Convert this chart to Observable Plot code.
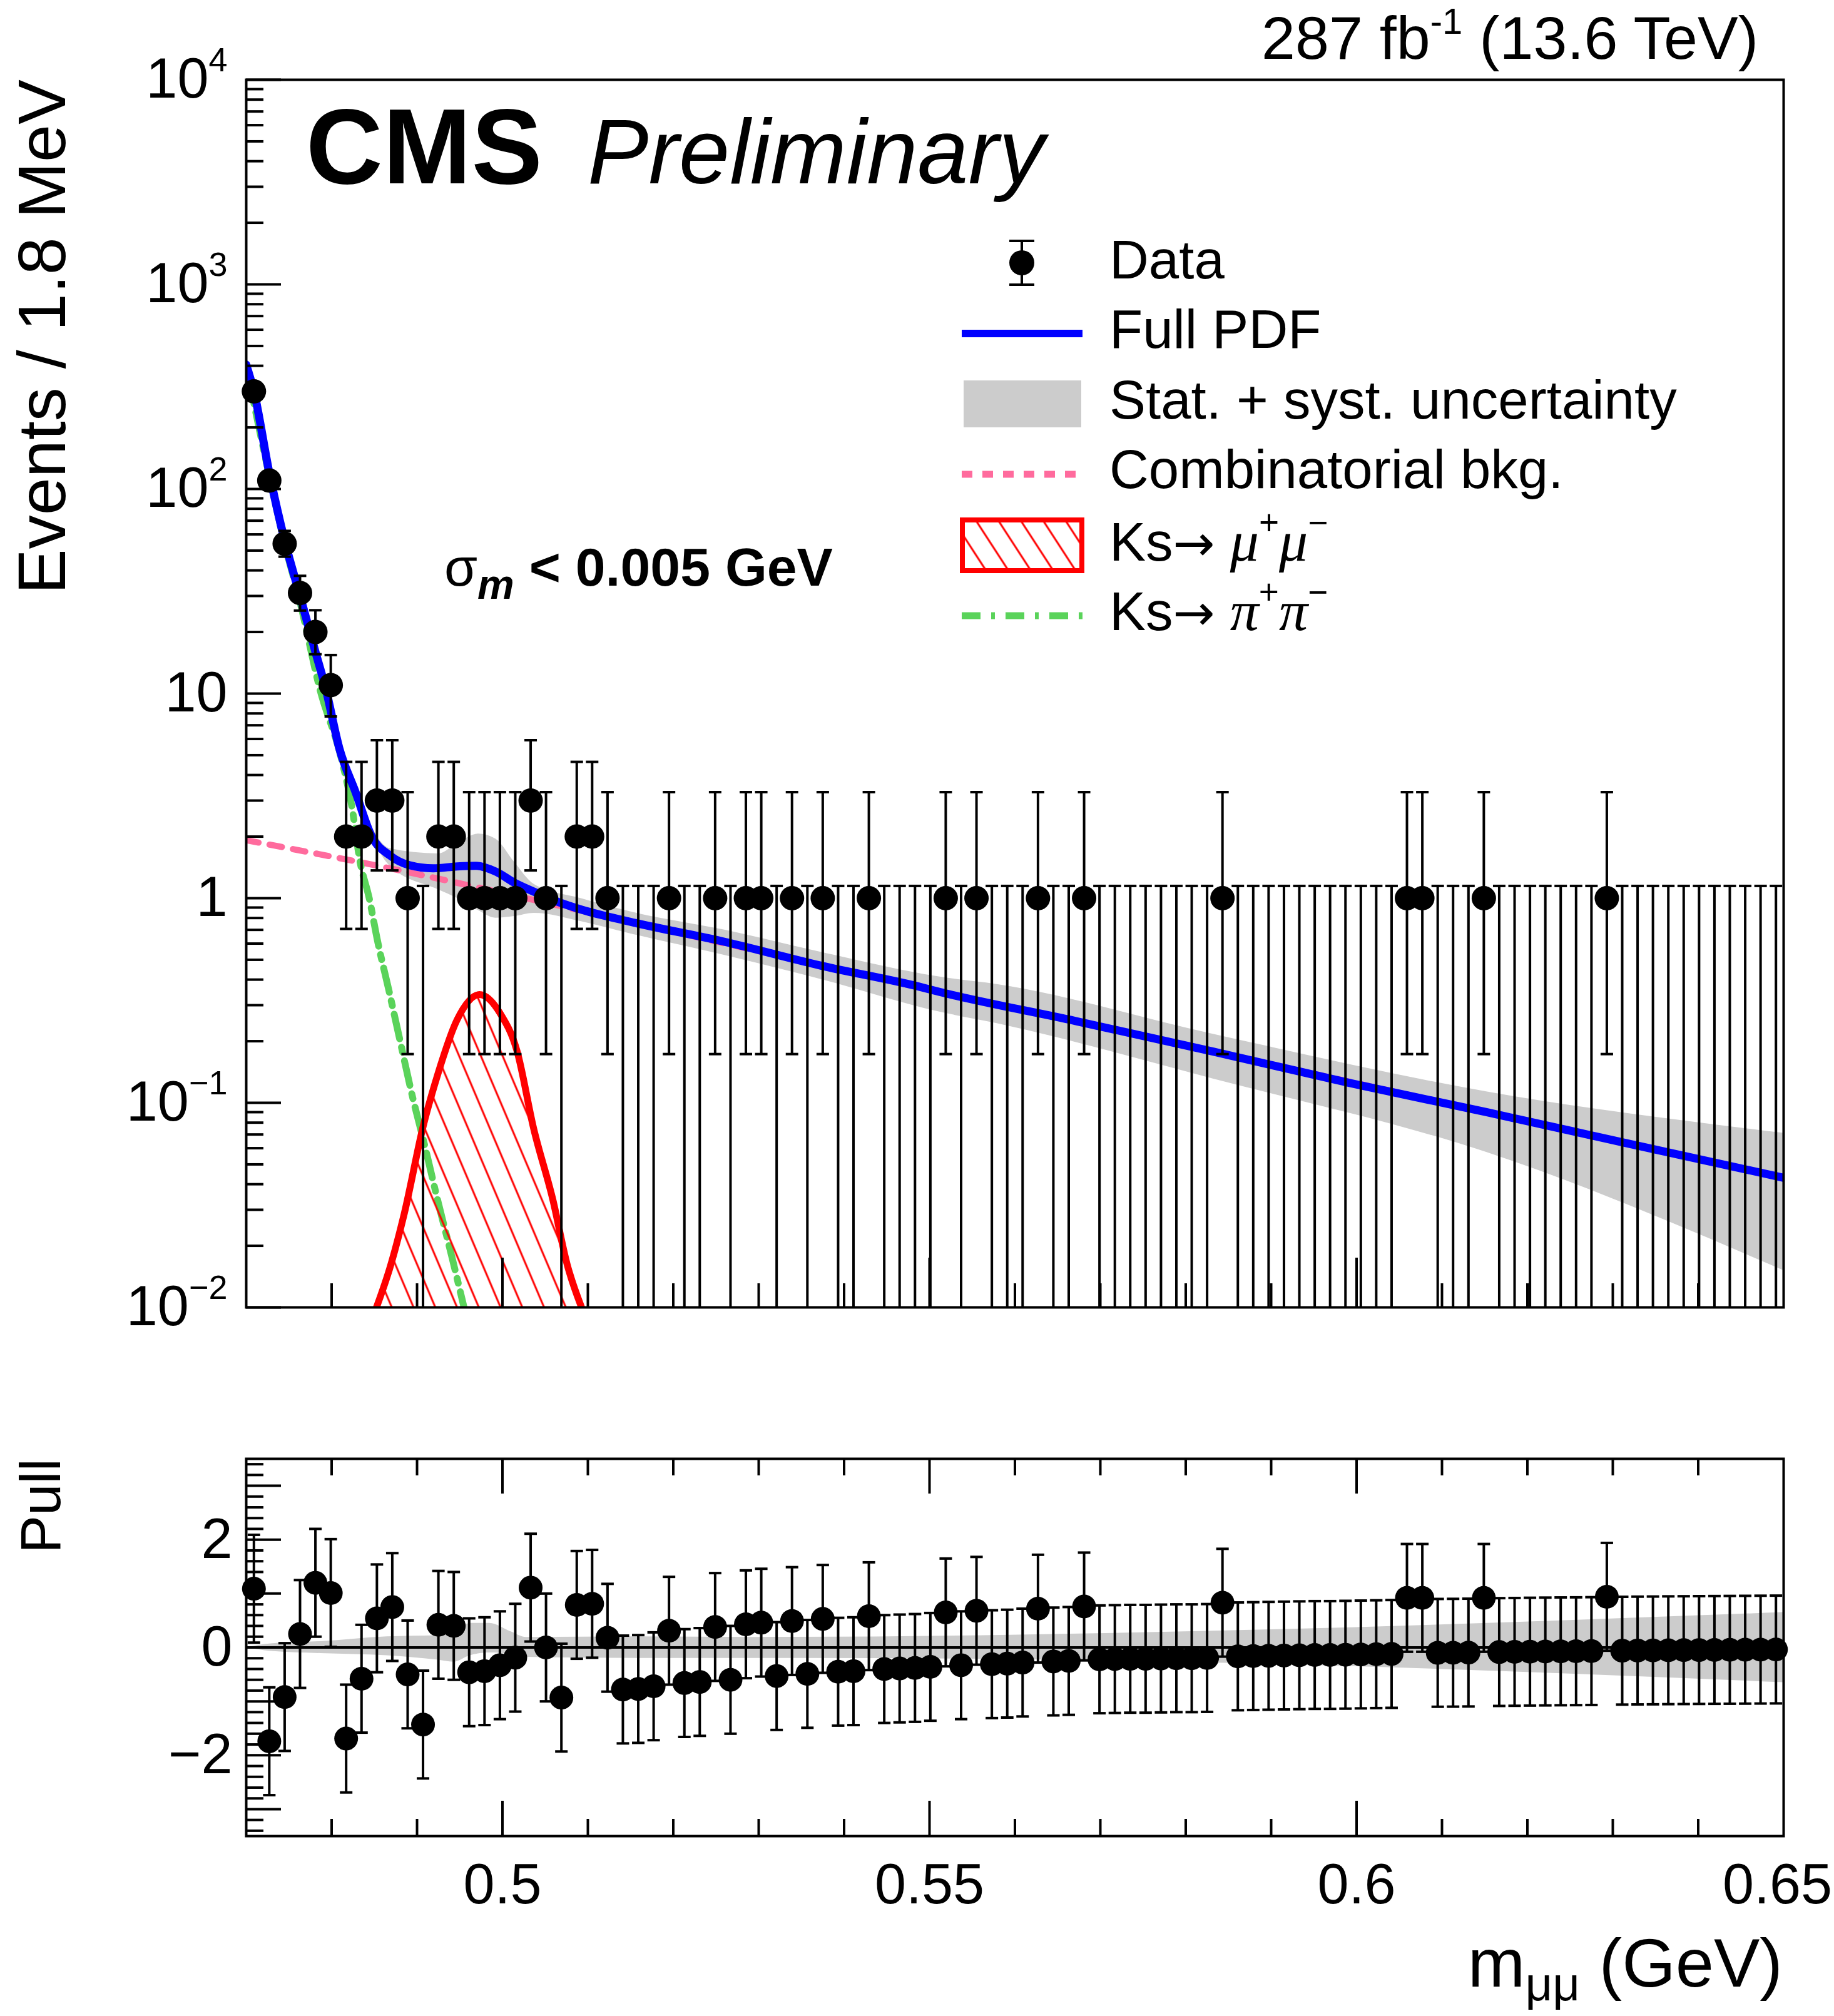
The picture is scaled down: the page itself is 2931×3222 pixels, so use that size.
<!DOCTYPE html>
<html><head><meta charset="utf-8">
<script src="https://cdn.jsdelivr.net/npm/d3@7"></script>
<script src="https://cdn.jsdelivr.net/npm/@observablehq/plot@0.6"></script>
<style>
html,body{margin:0;padding:0;background:#fff;}
#wrap{position:relative;width:2931px;height:3222px;overflow:hidden;background:#fff;}
#main{position:absolute;left:0;top:0;}
#pull{position:absolute;left:0;top:2200px;}
svg{overflow:visible;}
</style></head>
<body><div id="wrap"><div id="main"></div><div id="pull"></div></div>
<script>
// ---------------- data ----------------
const binLow = 0.47, binWidth = 0.0018;   // Events / 1.8 MeV
const counts = [
  300,110,54,31,20,11,2,2,3,3,
  1,0,2,2,1,1,1,1,3,1,
  0,2,2,1,0,0,0,1,0,0,
  1,0,1,1,0,1,0,1,0,0,
  1,0,0,0,0,1,0,1,0,0,
  0,1,0,0,1,0,0,0,0,0,
  0,0,0,1,0,0,0,0,0,0,
  0,0,0,0,0,1,1,0,0,0,
  1,0,0,0,0,0,0,0,1,0,
  0,0,0,0,0,0,0,0,0,0];
// Poisson error bars [down, up] as drawn
const poissonErr = {0:[0,1.148],1:[0.827,2.299],2:[1.292,2.638],3:[1.633,2.918],
  11:[3.27,4.43],20:[4.43,5.55],31:[5.55,6.63],54:[7.32,8.4],110:[10.5,11.5],300:[17.3,18.3]};
const pulls = [
  1.09,-1.74,-0.92,0.25,1.20,1.01,-1.69,-0.58,0.54,0.75,
  -0.50,-1.43,0.42,0.40,-0.46,-0.44,-0.33,-0.19,1.11,0.00,
  -0.93,0.79,0.81,0.18,-0.78,-0.77,-0.72,0.31,-0.66,-0.64,
  0.38,-0.60,0.43,0.46,-0.53,0.49,-0.49,0.53,-0.45,-0.44,
  0.58,-0.40,-0.39,-0.38,-0.36,0.65,-0.33,0.68,-0.31,-0.30,
  -0.28,0.72,-0.26,-0.25,0.76,-0.22,-0.215,-0.21,-0.21,-0.205,
  -0.20,-0.20,-0.195,0.83,-0.165,-0.16,-0.155,-0.15,-0.145,-0.14,
  -0.14,-0.135,-0.13,-0.125,-0.12,0.92,0.92,-0.10,-0.098,-0.095,
  0.92,-0.085,-0.082,-0.078,-0.075,-0.072,-0.07,-0.067,0.94,-0.06,
  -0.057,-0.055,-0.052,-0.05,-0.048,-0.046,-0.044,-0.042,-0.04,-0.038];
const pullErr = 1.0;

const fullX = [0.4700,0.4709,0.4727,0.4745,0.4763,0.4781,0.4793,0.4809,0.4828,0.4847,0.4868,0.4891,0.4919,0.4947,0.4969,0.4992,0.5014,0.5037,0.5065,0.5093,0.5149,0.5261,0.5373,0.5485,0.5511,0.5671,0.5832,0.5992,0.6152,0.6312,0.6500];
const fullY = [405,300,120,56,30,16,10.6,5.4,3.3,2.0,1.62,1.45,1.40,1.43,1.44,1.35,1.19,1.075,0.96,0.878,0.768,0.611,0.468,0.372,0.349,0.251,0.178,0.125,0.090,0.064,0.043];

const bandX  = [0.4700,0.4727,0.4763,0.4799,0.4828,0.4868,0.4925,0.4947,0.4972,0.4992,0.5014,0.5037,0.5093,0.5149,0.5261,0.5373,0.5511,0.5579,0.5832,0.6152,0.6500];
const bandHi = [418,124,31.5,8.2,3.45,1.75,1.65,1.85,2.06,1.95,1.50,1.17,0.995,0.861,0.698,0.545,0.413,0.379,0.2166,0.1134,0.0711];
const bandLo = [392,116,28.5,7.2,3.15,1.44,1.10,1.00,0.87,0.80,0.815,0.845,0.768,0.672,0.525,0.401,0.2785,0.244,0.131,0.0573,0.01515];

const combX = [0.4700,0.4868,0.5037,0.5261,0.5511,0.5832,0.6152,0.6500];
const combY = [1.92,1.40,0.98,0.60,0.349,0.178,0.090,0.043];

const pipiX = [0.4700,0.4727,0.4745,0.4763,0.4786,0.4812,0.4824,0.4833,0.4844,0.4854,0.4867,0.4880,0.4894,0.4908,0.4924,0.4941,0.4955];
const pipiY = [400,116,54,28,10.6,4.7,2.75,1.53,1.0,0.611,0.355,0.202,0.110,0.0643,0.0336,0.0175,0.0100];

const mumuX = [0.48525,0.48682,0.48851,0.49075,0.49243,0.49468,0.49731,0.49972,0.50169,0.50365,0.5059,0.50757,0.50926];
const mumuY = [0.0100,0.0156,0.0288,0.0778,0.138,0.254,0.338,0.274,0.180,0.0749,0.0336,0.01625,0.0100];

const pullBandX  = [0.4700,0.4729,0.4787,0.4865,0.4923,0.4943,0.4962,0.4985,0.5009,0.5028,0.5156,0.5299,0.5594,0.5900,0.6500];
const pullBandHi = [0.00,0.07,0.11,0.20,0.22,0.25,0.45,0.45,0.30,0.19,0.20,0.19,0.23,0.33,0.65];
const pullBandLo = [0.00,-0.07,-0.11,-0.15,-0.23,-0.27,-0.15,-0.10,-0.12,-0.18,-0.20,-0.20,-0.22,-0.31,-0.65];

const yMajor = [0.01,0.1,1,10,100,1000,10000];
const yTickLabels = ["10^{−2}","10^{−1}","1","10","10^{2}","10^{3}","10^{4}"];
const xMajor = [0.5,0.55,0.6];
const xTickValues = [0.5,0.55,0.6];
const xTickLabels = ["0.5","0.55","0.6"];
const xEdgeTick = [0.65];
const xEdgeLabel = ["0.65"];
const pullMajor = [-3,-2,-1,0,1,2,3];
const pullTickValues = [-2,0,2];
const pullTickLabels = ["−2","0","2"];

// ---------------- layout ----------------
const W = 2931, ML = 393, MR = 81;
const H1 = 2200, MT1 = 127, MB1 = 111;
const H2 = 1022, MT2 = 131, MB2 = 288;
const FW = W - ML - MR, FH1 = H1 - MT1 - MB1, FH2 = H2 - MT2 - MB2;
const FONT = '"Liberation Sans", Arial, Helvetica, sans-serif';
const SERIF = '"Liberation Serif", "Times New Roman", serif';
const ARROWFONT = '"DejaVu Sans", sans-serif';
const BLUE = "#0000ff", RED = "#ff0000", GRAY = "#cccccc", PINK = "#ff6b9d", GREEN = "#5ad35a";
const yMin = 0.01;

const zip = (xs, ys) => xs.map((x, i) => ({x, y: ys[i]}));
const bins = counts.map((n, i) => ({
  x: binLow + binWidth * (i + 0.5), n, pull: pulls[i],
  lo: n > 0 ? n - poissonErr[n][0] : yMin, hi: n + poissonErr[n][1]
}));
const nz = bins.filter(d => d.n > 0);
const band = bandX.map((x, i) => ({x, lo: bandLo[i], hi: bandHi[i]}));
const pband = pullBandX.map((x, i) => ({x, lo: pullBandLo[i], hi: pullBandHi[i]}));
const yMinor = [];
for (const d of [0.01,0.1,1,10,100,1000]) for (let k = 2; k <= 9; k++) yMinor.push(d * k);
const xMinor = d3.range(48, 65).map(v => v / 100).filter(v => Math.round(v * 100) % 5 !== 0);
const pullMinor = d3.range(-17, 18).map(v => v / 5).filter(v => Math.abs(v - Math.round(v)) > 1e-6);

const capSymbol = (hw) => ({draw(ctx) { ctx.moveTo(-hw, 0); ctx.lineTo(hw, 0); }});

// ---------------- main panel ----------------
const main = Plot.plot({
  width: W, height: H1, marginLeft: ML, marginRight: MR, marginTop: MT1, marginBottom: MB1,
  style: {background: "white", fontFamily: FONT, overflow: "visible"},
  x: {domain: [0.47, 0.65], axis: null},
  y: {type: "log", domain: [0.01, 10000], axis: null},
  marks: [
    Plot.areaY(band, {x: "x", y1: "lo", y2: "hi", fill: GRAY, curve: "monotone-x", clip: true}),
    Plot.line(zip(combX, combY), {x: "x", y: "y", stroke: PINK, strokeWidth: 10, strokeDasharray: "20,18", curve: "monotone-x", clip: true}),
    Plot.line(zip(pipiX, pipiY), {x: "x", y: "y", stroke: GREEN, strokeWidth: 11, strokeDasharray: "40,14,8,14", curve: "monotone-x", clip: true}),
    Plot.areaY(zip(mumuX, mumuY), {x: "x", y1: () => yMin, y2: "y", fill: "url(#hatchMain)", curve: "monotone-x", clip: true}),
    Plot.line(zip(mumuX, mumuY), {x: "x", y: "y", stroke: RED, strokeWidth: 11, curve: "monotone-x", clip: true}),
    Plot.line(zip(fullX, fullY), {x: "x", y: "y", stroke: BLUE, strokeWidth: 13, curve: "monotone-x", clip: true}),
    Plot.tickY(yMajor, {y: d => d, stroke: "black", strokeWidth: 4, insetRight: FW - 56}),
    Plot.tickY(yMinor, {y: d => d, stroke: "black", strokeWidth: 4, insetRight: FW - 28}),
    Plot.tickX(xMajor, {x: d => d, stroke: "black", strokeWidth: 4, insetTop: FH1 - 79}),
    Plot.tickX(xMinor, {x: d => d, stroke: "black", strokeWidth: 4, insetTop: FH1 - 38}),
    Plot.ruleX(bins, {x: "x", y1: "lo", y2: "hi", stroke: "black", strokeWidth: 4, clip: true}),
    Plot.dot(bins, {x: "x", y: "hi", symbol: capSymbol(10), fill: "none", stroke: "black", strokeWidth: 4, clip: true}),
    Plot.dot(nz, {x: "x", y: "lo", symbol: capSymbol(10), fill: "none", stroke: "black", strokeWidth: 4, clip: true}),
    Plot.dot(nz, {x: "x", y: "n", r: 19.5, fill: "black", stroke: "none"}),
    Plot.axisY({ticks: yMajor, tickSize: 0, tickPadding: 30, fontSize: 90, label: null,
      tickFormat: d => yTickLabels[yMajor.indexOf(d)]}),
    Plot.frame({stroke: "black", strokeWidth: 4})
  ]
});
document.getElementById("main").appendChild(main);

// ---------------- pull panel ----------------
const pull = Plot.plot({
  width: W, height: H2, marginLeft: ML, marginRight: MR, marginTop: MT2, marginBottom: MB2,
  style: {background: "white", fontFamily: FONT, overflow: "visible"},
  x: {domain: [0.47, 0.65], axis: null},
  y: {domain: [-3.5, 3.5], axis: null},
  marks: [
    Plot.areaY(pband, {x: "x", y1: "lo", y2: "hi", fill: GRAY, curve: "monotone-x"}),
    Plot.ruleY([0], {stroke: "black", strokeWidth: 4}),
    Plot.tickY(pullMajor, {y: d => d, stroke: "black", strokeWidth: 4, insetRight: FW - 56}),
    Plot.tickY(pullMinor, {y: d => d, stroke: "black", strokeWidth: 4, insetRight: FW - 28}),
    Plot.tickX(xMajor, {x: d => d, stroke: "black", strokeWidth: 4, insetTop: FH2 - 56}),
    Plot.tickX(xMinor, {x: d => d, stroke: "black", strokeWidth: 4, insetTop: FH2 - 27}),
    Plot.tickX(xMajor, {x: d => d, stroke: "black", strokeWidth: 4, insetBottom: FH2 - 56}),
    Plot.tickX(xMinor, {x: d => d, stroke: "black", strokeWidth: 4, insetBottom: FH2 - 27}),
    Plot.ruleX(bins, {x: "x", y1: d => d.pull - pullErr, y2: d => d.pull + pullErr, stroke: "black", strokeWidth: 4, clip: true}),
    Plot.dot(bins, {x: "x", y: d => d.pull + pullErr, symbol: capSymbol(10), fill: "none", stroke: "black", strokeWidth: 4, clip: true}),
    Plot.dot(bins, {x: "x", y: d => d.pull - pullErr, symbol: capSymbol(10), fill: "none", stroke: "black", strokeWidth: 4, clip: true}),
    Plot.dot(bins, {x: "x", y: "pull", r: 19, fill: "black", stroke: "none"}),
    Plot.axisY({ticks: pullTickValues, tickSize: 0, tickPadding: 22, fontSize: 90, label: null,
      tickFormat: d => pullTickLabels[pullTickValues.indexOf(d)]}),
    Plot.axisX({ticks: xTickValues, tickSize: 0, tickPadding: 44, fontSize: 90, label: null,
      tickFormat: d => xTickLabels[xTickValues.indexOf(d)]}),
    Plot.axisX({ticks: xEdgeTick, tickSize: 0, tickPadding: 44, fontSize: 90, label: null, dx: -10,
      tickFormat: d => xEdgeLabel[xEdgeTick.indexOf(d)]}),
    Plot.frame({stroke: "black", strokeWidth: 4})
  ]
});
document.getElementById("pull").appendChild(pull);

// ---------------- rich text helpers ----------------
const NS = "http://www.w3.org/2000/svg";
function richify(el, fs) {
  const s = el.textContent;
  if (!/[\^_]\{/.test(s)) return;
  const parts = []; let buf = ""; let i = 0;
  while (i < s.length) {
    if ((s[i] === "^" || s[i] === "_") && s[i + 1] === "{") {
      if (buf) parts.push({t: buf, k: 0}); buf = "";
      const j = s.indexOf("}", i + 2);
      parts.push({t: s.slice(i + 2, j), k: s[i] === "^" ? 1 : -1});
      i = j + 1;
    } else { buf += s[i]; i++; }
  }
  if (buf) parts.push({t: buf, k: 0});
  el.textContent = "";
  let cur = 0;
  for (const p of parts) {
    const ts = document.createElementNS(NS, "tspan");
    const target = p.k === 1 ? -0.47 * fs : p.k === -1 ? 0.22 * fs : 0;
    if (target !== cur) ts.setAttribute("dy", target - cur);
    cur = target;
    if (p.k) ts.setAttribute("font-size", 0.6 * fs);
    ts.textContent = p.t;
    el.appendChild(ts);
  }
}
d3.select(main).selectAll("text").each(function() { richify(this, 90); });

function rich(svgSel, x, y, segs, opt = {}) {
  const t = svgSel.append("text").attr("x", x).attr("y", y)
    .attr("font-family", opt.family || FONT).attr("font-size", opt.fs || 87)
    .attr("text-anchor", opt.anchor || "start").attr("fill", "black");
  if (opt.weight) t.attr("font-weight", opt.weight);
  if (opt.transform) t.attr("transform", opt.transform);
  let cur = 0;
  for (const s of segs) {
    const ts = t.append("tspan").text(s.t);
    const target = s.dy || 0;
    if (target !== cur) ts.attr("dy", target - cur);
    cur = target;
    if (s.fs) ts.attr("font-size", s.fs);
    if (s.style) ts.attr("font-style", s.style);
    if (s.weight) ts.attr("font-weight", s.weight);
    if (s.family) ts.attr("font-family", s.family);
  }
  return t;
}

const ms = d3.select(main);
const defs = ms.append("defs");
defs.append("pattern").attr("id", "hatchMain").attr("patternUnits", "userSpaceOnUse")
  .attr("width", 32).attr("height", 32).attr("patternTransform", "rotate(-23)")
  .append("line").attr("x1", 16).attr("y1", -4).attr("x2", 16).attr("y2", 36)
  .attr("stroke", RED).attr("stroke-width", 3);
defs.append("pattern").attr("id", "hatchLeg").attr("patternUnits", "userSpaceOnUse")
  .attr("width", 30).attr("height", 30).attr("patternTransform", "rotate(-33)")
  .append("line").attr("x1", 15).attr("y1", -4).attr("x2", 15).attr("y2", 34)
  .attr("stroke", RED).attr("stroke-width", 3);

// titles
rich(ms, 489, 293, [{t: "CMS"}], {fs: 170, weight: "bold"});
rich(ms, 939, 293, [{t: "Preliminary"}], {fs: 146, family: FONT}).attr("font-style", "italic");
rich(ms, 2810, 94, [{t: "287 fb"}, {t: "-1", fs: 58, dy: -40}, {t: " (13.6 TeV)", dy: 0}], {fs: 97, anchor: "end"});
rich(ms, 710, 936, [{t: "σ", weight: "normal"}, {t: "m", fs: 66, dy: 21, style: "italic"}, {t: " < 0.005 GeV", dy: 0}], {fs: 86, weight: "bold"});
rich(ms, 0, 0, [{t: "Events / 1.8 MeV"}], {fs: 108, anchor: "end", transform: "translate(104,127) rotate(-90)"});

// legend
const lg = ms.append("g");
const LX = 1773;
const rows = [445, 556, 669, 780, 896, 1007];
lg.append("line").attr("x1", 1633).attr("x2", 1633).attr("y1", 385).attr("y2", 455).attr("stroke", "black").attr("stroke-width", 4);
lg.append("line").attr("x1", 1613).attr("x2", 1653).attr("y1", 385).attr("y2", 385).attr("stroke", "black").attr("stroke-width", 4);
lg.append("line").attr("x1", 1613).attr("x2", 1653).attr("y1", 455).attr("y2", 455).attr("stroke", "black").attr("stroke-width", 4);
lg.append("circle").attr("cx", 1633).attr("cy", 420).attr("r", 20).attr("fill", "black");
rich(lg, LX, rows[0], [{t: "Data"}]);
lg.append("line").attr("x1", 1537).attr("x2", 1730).attr("y1", 533).attr("y2", 533).attr("stroke", BLUE).attr("stroke-width", 12);
rich(lg, LX, rows[1], [{t: "Full PDF"}]);
lg.append("rect").attr("x", 1540).attr("y", 608).attr("width", 188).attr("height", 75).attr("fill", GRAY);
rich(lg, LX, rows[2], [{t: "Stat. + syst. uncertainty"}]);
lg.append("line").attr("x1", 1537).attr("x2", 1726).attr("y1", 758).attr("y2", 758).attr("stroke", PINK).attr("stroke-width", 11).attr("stroke-dasharray", "17,16");
rich(lg, LX, rows[3], [{t: "Combinatorial bkg."}]);
lg.append("rect").attr("x", 1538).attr("y", 831).attr("width", 191).attr("height", 81).attr("fill", "url(#hatchLeg)").attr("stroke", RED).attr("stroke-width", 8);
rich(lg, LX, rows[4], [{t: "Ks"}, {t: "→", family: ARROWFONT, fs: 80}, {t: " "}, {t: "μ", family: SERIF, style: "italic", fs: 92}, {t: "+", fs: 55, dy: -42}, {t: "μ", family: SERIF, style: "italic", fs: 92, dy: 0}, {t: "−", fs: 55, dy: -42}]);
lg.append("line").attr("x1", 1537).attr("x2", 1730).attr("y1", 984).attr("y2", 984).attr("stroke", GREEN).attr("stroke-width", 11).attr("stroke-dasharray", "30,17,6,17");
rich(lg, LX, rows[5], [{t: "Ks"}, {t: "→", family: ARROWFONT, fs: 80}, {t: " "}, {t: "π", family: SERIF, style: "italic", fs: 92}, {t: "+", fs: 55, dy: -42}, {t: "π", family: SERIF, style: "italic", fs: 92, dy: 0}, {t: "−", fs: 55, dy: -42}]);

// pull panel titles
const ps = d3.select(pull);
rich(ps, 0, 0, [{t: "Pull"}], {fs: 91, anchor: "end", transform: `translate(96,${MT2}) rotate(-90)`});
rich(ps, 2849, 975, [{t: "m"}, {t: "μμ", fs: 76, dy: 22}, {t: " (GeV)", dy: 0}], {fs: 110, anchor: "end"});
</script>
</body></html>
